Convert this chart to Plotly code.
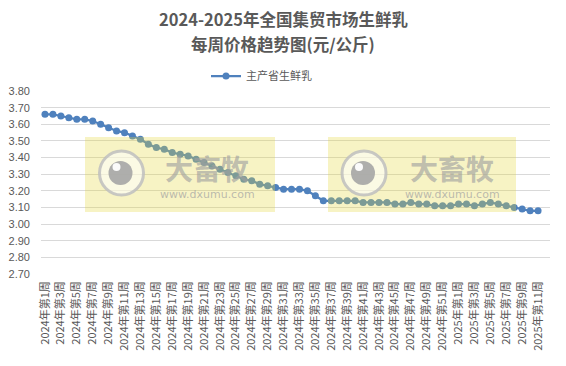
import plotly.graph_objects as go

# ---- data ----
weeks_2024 = [f"2024年第{i}周" for i in range(1, 53)]
weeks_2025 = [f"2025年第{i}周" for i in range(1, 12)]
categories = weeks_2024 + weeks_2025

prices = [
    3.66, 3.66, 3.65, 3.64, 3.63, 3.63, 3.62, 3.60, 3.58, 3.56,
    3.55, 3.53, 3.51, 3.48, 3.46, 3.45, 3.43, 3.42, 3.41, 3.39,
    3.37, 3.35, 3.33, 3.31, 3.29, 3.27, 3.26, 3.24, 3.23, 3.22,
    3.21, 3.21, 3.21, 3.20, 3.17, 3.14, 3.14, 3.14, 3.14, 3.14,
    3.13, 3.13, 3.13, 3.13, 3.12, 3.12, 3.13, 3.12, 3.12, 3.11,
    3.11, 3.11, 3.12, 3.12, 3.11, 3.12, 3.13, 3.12, 3.11, 3.10,
    3.09, 3.08, 3.08,
]
series_name = "主产省生鲜乳"
tick_labels = categories[::2]
y_ticks = [round(2.7 + 0.1 * i, 2) for i in range(12)]

# ---- layout geometry (page pixels; page body has an 8px margin) ----
OFF = 8
PAGE_W, PAGE_H = 566, 366
W, H = PAGE_W - OFF, PAGE_H - OFF
PL, PR, PT, PB = 41, 550, 91, 274      # plot area in page pixels
L, T = PL - OFF, PT - OFF
R = W - (PR - OFF)
B = H - (PB - OFF)
PW, PH = PR - PL, PB - PT

def px(x):
    return (x - PL) / PW

def py(y):
    return (PB - y) / PH

CJK = "Noto Sans CJK SC"
GRAY = "#595959"
BLUE = "#4F81BD"

fig = go.Figure()
fig.add_trace(go.Scatter(
    x=categories, y=prices, name=series_name, mode="lines+markers",
    line=dict(color=BLUE, width=2.25),
    marker=dict(color=BLUE, size=7, symbol="circle"),
))

shapes = []
annotations = []

# watermarks
for (x0, x1, cx, tx) in [(85, 275, 121.5, 207), (328, 516, 364, 452)]:
    y0, y1 = 137, 212
    shapes.append(dict(type="rect", xref="paper", yref="paper",
                       x0=px(x0), x1=px(x1), y0=py(y1), y1=py(y0),
                       fillcolor="rgba(230,215,60,0.30)", line=dict(width=0), layer="above"))
    cy = 173
    r = 22
    shapes.append(dict(type="circle", xref="paper", yref="paper",
                       x0=px(cx - r), x1=px(cx + r), y0=py(cy + r), y1=py(cy - r),
                       fillcolor="rgba(255,255,255,0.55)",
                       line=dict(color="rgba(190,190,190,0.85)", width=3), layer="above"))
    r2 = 12
    shapes.append(dict(type="circle", xref="paper", yref="paper",
                       x0=px(cx - 1 - r2), x1=px(cx - 1 + r2), y0=py(cy + r2), y1=py(cy - r2),
                       fillcolor="rgba(165,165,165,0.9)", line=dict(width=0), layer="above"))
    r3 = 4
    hx, hy = cx - 5, cy - 6
    shapes.append(dict(type="circle", xref="paper", yref="paper",
                       x0=px(hx - r3), x1=px(hx + r3), y0=py(hy + r3), y1=py(hy - r3),
                       fillcolor="rgba(255,255,255,0.95)", line=dict(width=0), layer="above"))
    annotations.append(dict(text="<b>大畜牧</b>", xref="paper", yref="paper",
                            x=px(tx), y=py(168), showarrow=False,
                            xanchor="center", yanchor="middle",
                            font=dict(family=CJK, size=28, color="rgba(160,160,160,0.65)")))
    annotations.append(dict(text="www.dxumu.com", xref="paper", yref="paper",
                            x=px(tx), y=py(194), showarrow=False,
                            xanchor="center", yanchor="middle",
                            font=dict(family="DejaVu Sans", size=11, color="rgba(160,160,160,0.7)")))

# title
annotations.append(dict(text="<b>2024-2025年全国集贸市场生鲜乳</b>", xref="paper", yref="paper",
                        x=px(283), y=py(19), showarrow=False, xanchor="center", yanchor="middle",
                        font=dict(family=CJK, size=16.5, color=GRAY)))
annotations.append(dict(text="<b>每周价格趋势图(元/公斤)</b>", xref="paper", yref="paper",
                        x=px(283), y=py(44), showarrow=False, xanchor="center", yanchor="middle",
                        font=dict(family=CJK, size=16.5, color=GRAY)))

fig.update_layout(
    width=W, height=H,
    margin=dict(l=L, r=R, t=T, b=B, pad=0, autoexpand=False),
    paper_bgcolor="white", plot_bgcolor="white",
    showlegend=True,
    legend=dict(orientation="h", x=px(206), y=py(76), xanchor="left", yanchor="middle",
                font=dict(family=CJK, size=11, color=GRAY), bgcolor="rgba(0,0,0,0)"),
    shapes=shapes, annotations=annotations,
    xaxis=dict(type="category", categoryorder="array", categoryarray=categories,
               range=[-0.5, 63.5], tickmode="array", tickvals=tick_labels, ticktext=tick_labels,
               tickangle=-90, showgrid=False, showline=False, ticks="", automargin=False,
               ticklabelstandoff=4,
               tickfont=dict(family=CJK, size=11, color=GRAY), fixedrange=True),
    yaxis=dict(range=[2.6995, 3.8005], tickmode="array", tickvals=y_ticks,
               ticktext=[f"{v:.2f}" for v in y_ticks], automargin=False,
               showgrid=True, gridcolor="#D9D9D9", gridwidth=1, zeroline=False,
               showline=False, ticks="", ticklabelstandoff=10,
               tickfont=dict(family="Liberation Sans", size=11, color=GRAY)),
)

fig.write_html("out.html")
